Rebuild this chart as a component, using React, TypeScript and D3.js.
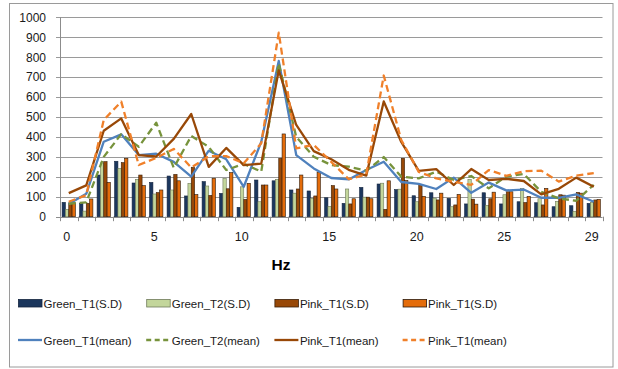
import React from "react";
import * as d3 from "d3";

const categories = ["0","1","2","3","4","5","6","7","8","9","10","11","12","13","14","15","16","17","18","19","20","21","22","23","24","25","26","27","28","29","30"];
const xTickCats = ["0", "5", "10", "15", "20", "25", "30"];
const xTickLabels = ["0", "5", "10", "15", "20", "25", "29"];
const yTicks = [0, 100, 200, 300, 400, 500, 600, 700, 800, 900, 1000];

const greenT1SD = [72, 68, 209, 278, 169, 172, 204, 104, 176, 117, 47, 184, 180, 134, 129, 95, 67, 147, 164, 136, 105, 120, 92, 64, 120, 64, 75, 70, 50, 55, 67];
const greenT2SD = [37, 28, 270, 242, 187, 114, 134, 167, 154, 192, 150, 75, 187, 118, 92, 52, 139, 98, 168, 138, 75, 93, 50, 187, 57, 110, 142, 90, 77, 27, 72];
const pinkT1SD = [70, 67, 276, 271, 209, 121, 212, 248, 107, 140, 87, 159, 293, 139, 104, 156, 64, 98, 37, 293, 160, 84, 59, 88, 90, 125, 71, 59, 110, 122, 84];
const pinkT1SDb = [70, 89, 172, 293, 156, 134, 180, 111, 193, 221, 167, 159, 415, 209, 224, 139, 90, 90, 180, 182, 102, 118, 112, 63, 123, 125, 102, 142, 108, 118, 87];

const greenT1Mean = [64, 115, 376, 413, 309, 316, 275, 201, 331, 288, 150, 376, 781, 309, 242, 194, 187, 234, 276, 174, 165, 139, 196, 120, 171, 132, 136, 95, 95, 112, 75];
const greenT2Mean = [65, 72, 300, 414, 351, 471, 245, 405, 350, 234, 265, 226, 769, 400, 301, 259, 251, 231, 299, 201, 192, 226, 184, 204, 142, 201, 214, 125, 92, 80, 160];
const pinkT1Mean = [118, 157, 431, 493, 309, 302, 390, 515, 250, 345, 259, 266, 734, 460, 329, 288, 235, 206, 578, 375, 230, 239, 159, 239, 184, 190, 179, 112, 140, 196, 150];
const pinkT1Meanb = [75, 108, 485, 577, 259, 295, 340, 247, 303, 304, 268, 368, 923, 343, 360, 275, 188, 212, 708, 385, 225, 192, 176, 159, 234, 205, 228, 231, 176, 206, 219];

const barSeries = [
  { key: "g1sd", name: "Green_T1(S.D)", values: greenT1SD, fill: "#1B365D", stroke: "#14253f" },
  { key: "g2sd", name: "Green_T2(S.D)", values: greenT2SD, fill: "#C3D69B", stroke: "#6f7a5a" },
  { key: "p1sd", name: "Pink_T1(S.D)", values: pinkT1SD, fill: "#984807", stroke: "#3a1f08" },
  { key: "p1sdb", name: "Pink_T1(S.D)", values: pinkT1SDb, fill: "#E46C0A", stroke: "#2b1a0c" },
];

const lineSeries = [
  { key: "g1m", name: "Green_T1(mean)", values: greenT1Mean, color: "#4F81BD", dash: "" },
  { key: "g2m", name: "Green_T2(mean)", values: greenT2Mean, color: "#77933C", dash: "7,4" },
  { key: "p1m", name: "Pink_T1(mean)", values: pinkT1Mean, color: "#984807", dash: "" },
  { key: "p1mb", name: "Pink_T1(mean)", values: pinkT1Meanb, color: "#F0802A", dash: "7,4" },
];

const FONT = "'Liberation Sans', Arial, sans-serif";

export default function App() {
  const W = 618, H = 369;
  const plotL = 60, plotR = 602.5, plotT = 17.3, plotB = 216.7;

  const x0 = d3.scaleBand<string>().domain(categories).range([plotL, plotR]).padding(0);
  const bw = x0.bandwidth();
  const gap = bw * 0.24;
  const x1 = d3.scaleBand<string>().domain(barSeries.map((s) => s.key)).range([gap / 2, bw - gap / 2]).padding(0);
  const y = d3.scaleLinear().domain([0, 1000]).range([plotB, plotT]);

  const cx = (i: number) => (x0(categories[i]) as number) + bw / 2;
  const line = d3.line<number>().x((_, i) => cx(i)).y((d) => y(d));

  const legendX = (i: number) => 18 + i * 128.2;

  return (
    <div style={{ position: "absolute", left: 0, top: 0 }}>
      <svg width={W} height={H} style={{ display: "block", background: "#fff" }}>
        <rect x={9.5} y={3.5} width={603.5} height={363.5} fill="#fff" stroke="#9a9a9a" strokeWidth={1} />

        {yTicks.map((t) => (
          <g key={t}>
            {t > 0 && (
              <line x1={plotL - 4} x2={plotR} y1={Math.round(y(t)) + 0.5} y2={Math.round(y(t)) + 0.5} stroke="#9a9a9a" strokeWidth={1} />
            )}
            <text x={46} y={y(t)} dy="0.36em" textAnchor="end" fontFamily={FONT} fontSize={12} fill="#1a1a1a">
              {t}
            </text>
          </g>
        ))}

        {barSeries.map((s) => (
          <g key={s.key}>
            {s.values.map((v, i) => (
              <rect
                key={i}
                x={(x0(categories[i]) as number) + (x1(s.key) as number)}
                y={y(v)}
                width={x1.bandwidth()}
                height={plotB - y(v)}
                fill={s.fill}
                stroke={s.stroke}
                strokeWidth={0.6}
              />
            ))}
          </g>
        ))}

        <line x1={plotL + 0.5} x2={plotL + 0.5} y1={plotT} y2={plotB} stroke="#8c8c8c" />
        <line x1={plotL - 4} x2={plotR} y1={Math.round(plotB) + 0.5} y2={Math.round(plotB) + 0.5} stroke="#8c8c8c" />
        {categories.map((c) => (
          <line key={c} x1={Math.round(x0(c) as number) + 0.5} x2={Math.round(x0(c) as number) + 0.5} y1={plotB} y2={plotB + 4.5} stroke="#8c8c8c" />
        ))}
        <line x1={Math.round(plotR) + 0.5} x2={Math.round(plotR) + 0.5} y1={plotB} y2={plotB + 4.5} stroke="#8c8c8c" />

        {lineSeries.map((s) => (
          <path
            key={s.key}
            d={line(s.values) as string}
            fill="none"
            stroke={s.color}
            strokeWidth={2.3}
            strokeDasharray={s.dash || undefined}
            strokeLinejoin="round"
          />
        ))}

        {xTickCats.map((c, i) => (
          <text key={c} x={(x0(c) as number) + bw / 2 - 2} y={241} textAnchor="middle" fontFamily={FONT} fontSize={12.5} fill="#1a1a1a">
            {xTickLabels[i]}
          </text>
        ))}

        <text x={281} y={270} textAnchor="middle" fontFamily={FONT} fontSize={15.5} fontWeight="bold" fill="#000">
          Hz
        </text>

        {barSeries.map((s, i) => (
          <g key={s.key}>
            <rect x={legendX(i) + 0.5} y={299.5} width={23.5} height={7.5} fill={s.fill} stroke={s.stroke} strokeWidth={0.8} />
            <text x={legendX(i) + 25.5} y={307.5} fontFamily={FONT} fontSize={11.5} fill="#1a1a1a">
              {s.name}
            </text>
          </g>
        ))}
        {lineSeries.map((s, i) => (
          <g key={s.key}>
            <line x1={legendX(i)} x2={legendX(i) + 24} y1={340} y2={340} stroke={s.color} strokeWidth={2.3} strokeDasharray={s.dash ? "5,3.5" : undefined} />
            <text x={legendX(i) + 25.5} y={344.5} fontFamily={FONT} fontSize={11.5} fill="#1a1a1a">
              {s.name}
            </text>
          </g>
        ))}
      </svg>
    </div>
  );
}
